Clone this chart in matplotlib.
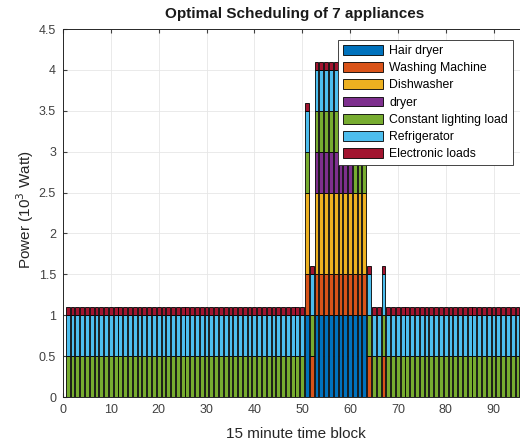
import numpy as np
import matplotlib
matplotlib.use("Agg")
import matplotlib.pyplot as plt

plt.rcParams['font.family'] = ['Liberation Sans', 'DejaVu Sans']

slots = list(range(1, 97))
names = ["Hair dryer", "Washing Machine", "Dishwasher", "dryer",
         "Constant lighting load", "Refrigerator", "Electronic loads"]
colors = ["#0072BD", "#D95319", "#EDB120", "#7E2F8E", "#77AC30", "#4DBEEE", "#A2142F"]

hair_dryer = [
    0, 0, 0, 0, 0, 0, 0, 0, 0, 0, 0, 0, 0, 0, 0, 0,
    0, 0, 0, 0, 0, 0, 0, 0, 0, 0, 0, 0, 0, 0, 0, 0,
    0, 0, 0, 0, 0, 0, 0, 0, 0, 0, 0, 0, 0, 0, 0, 0,
    0, 0, 1.0, 0, 1.0, 1.0, 1.0, 1.0, 1.0, 1.0, 1.0, 1.0, 1.0, 1.0, 1.0, 0,
    0, 0, 0, 0, 0, 0, 0, 0, 0, 0, 0, 0, 0, 0, 0, 0,
    0, 0, 0, 0, 0, 0, 0, 0, 0, 0, 0, 0, 0, 0, 0, 0]
washing_machine = [
    0, 0, 0, 0, 0, 0, 0, 0, 0, 0, 0, 0, 0, 0, 0, 0,
    0, 0, 0, 0, 0, 0, 0, 0, 0, 0, 0, 0, 0, 0, 0, 0,
    0, 0, 0, 0, 0, 0, 0, 0, 0, 0, 0, 0, 0, 0, 0, 0,
    0, 0, 0.5, 0.5, 0.5, 0.5, 0.5, 0.5, 0.5, 0.5, 0.5, 0.5, 0.5, 0.5, 0.5, 0.5,
    0, 0, 0.5, 0, 0, 0, 0, 0, 0, 0, 0, 0, 0, 0, 0, 0,
    0, 0, 0, 0, 0, 0, 0, 0, 0, 0, 0, 0, 0, 0, 0, 0]
dishwasher = [
    0, 0, 0, 0, 0, 0, 0, 0, 0, 0, 0, 0, 0, 0, 0, 0,
    0, 0, 0, 0, 0, 0, 0, 0, 0, 0, 0, 0, 0, 0, 0, 0,
    0, 0, 0, 0, 0, 0, 0, 0, 0, 0, 0, 0, 0, 0, 0, 0,
    0, 0, 1.0, 0, 1.0, 1.0, 1.0, 1.0, 1.0, 1.0, 1.0, 1.0, 1.0, 1.0, 1.0, 0,
    0, 0, 0, 0, 0, 0, 0, 0, 0, 0, 0, 0, 0, 0, 0, 0,
    0, 0, 0, 0, 0, 0, 0, 0, 0, 0, 0, 0, 0, 0, 0, 0]
dryer = [
    0, 0, 0, 0, 0, 0, 0, 0, 0, 0, 0, 0, 0, 0, 0, 0,
    0, 0, 0, 0, 0, 0, 0, 0, 0, 0, 0, 0, 0, 0, 0, 0,
    0, 0, 0, 0, 0, 0, 0, 0, 0, 0, 0, 0, 0, 0, 0, 0,
    0, 0, 0, 0, 0.5, 0.5, 0.5, 0.5, 0.5, 0.5, 0.5, 0.5, 0, 0, 0, 0,
    0, 0, 0, 0, 0, 0, 0, 0, 0, 0, 0, 0, 0, 0, 0, 0,
    0, 0, 0, 0, 0, 0, 0, 0, 0, 0, 0, 0, 0, 0, 0, 0]
lighting = [
    0.5, 0.5, 0.5, 0.5, 0.5, 0.5, 0.5, 0.5, 0.5, 0.5, 0.5, 0.5, 0.5, 0.5, 0.5, 0.5,
    0.5, 0.5, 0.5, 0.5, 0.5, 0.5, 0.5, 0.5, 0.5, 0.5, 0.5, 0.5, 0.5, 0.5, 0.5, 0.5,
    0.5, 0.5, 0.5, 0.5, 0.5, 0.5, 0.5, 0.5, 0.5, 0.5, 0.5, 0.5, 0.5, 0.5, 0.5, 0.5,
    0.5, 0.5, 0.5, 0.5, 0.5, 0.5, 0.5, 0.5, 0.5, 0.5, 0.5, 0.5, 0.5, 0.5, 0.5, 0.5,
    0.5, 0.5, 0.5, 0.5, 0.5, 0.5, 0.5, 0.5, 0.5, 0.5, 0.5, 0.5, 0.5, 0.5, 0.5, 0.5,
    0.5, 0.5, 0.5, 0.5, 0.5, 0.5, 0.5, 0.5, 0.5, 0.5, 0.5, 0.5, 0.5, 0.5, 0.5, 0.5]
refrigerator = [
    0.5, 0.5, 0.5, 0.5, 0.5, 0.5, 0.5, 0.5, 0.5, 0.5, 0.5, 0.5, 0.5, 0.5, 0.5, 0.5,
    0.5, 0.5, 0.5, 0.5, 0.5, 0.5, 0.5, 0.5, 0.5, 0.5, 0.5, 0.5, 0.5, 0.5, 0.5, 0.5,
    0.5, 0.5, 0.5, 0.5, 0.5, 0.5, 0.5, 0.5, 0.5, 0.5, 0.5, 0.5, 0.5, 0.5, 0.5, 0.5,
    0.5, 0.5, 0.5, 0.5, 0.5, 0.5, 0.5, 0.5, 0.5, 0.5, 0.5, 0.5, 0.5, 0.5, 0.5, 0.5,
    0.5, 0.5, 0.5, 0.5, 0.5, 0.5, 0.5, 0.5, 0.5, 0.5, 0.5, 0.5, 0.5, 0.5, 0.5, 0.5,
    0.5, 0.5, 0.5, 0.5, 0.5, 0.5, 0.5, 0.5, 0.5, 0.5, 0.5, 0.5, 0.5, 0.5, 0.5, 0.5]
electronic = [
    0.1, 0.1, 0.1, 0.1, 0.1, 0.1, 0.1, 0.1, 0.1, 0.1, 0.1, 0.1, 0.1, 0.1, 0.1, 0.1,
    0.1, 0.1, 0.1, 0.1, 0.1, 0.1, 0.1, 0.1, 0.1, 0.1, 0.1, 0.1, 0.1, 0.1, 0.1, 0.1,
    0.1, 0.1, 0.1, 0.1, 0.1, 0.1, 0.1, 0.1, 0.1, 0.1, 0.1, 0.1, 0.1, 0.1, 0.1, 0.1,
    0.1, 0.1, 0.1, 0.1, 0.1, 0.1, 0.1, 0.1, 0.1, 0.1, 0.1, 0.1, 0.1, 0.1, 0.1, 0.1,
    0.1, 0.1, 0.1, 0.1, 0.1, 0.1, 0.1, 0.1, 0.1, 0.1, 0.1, 0.1, 0.1, 0.1, 0.1, 0.1,
    0.1, 0.1, 0.1, 0.1, 0.1, 0.1, 0.1, 0.1, 0.1, 0.1, 0.1, 0.1, 0.1, 0.1, 0.1, 0.1]

series = [hair_dryer, washing_machine, dishwasher, dryer, lighting, refrigerator, electronic]

fig = plt.figure(figsize=(5.2, 4.45), dpi=100)
ax = fig.add_axes([63/520, 1-397/445, (527-63)/520, (397-29)/445])

bottom = np.zeros(len(slots))
for vals, name, col in zip(series, names, colors):
    v = np.array(vals, dtype=float)
    ax.bar(slots, v, width=0.8, bottom=bottom, color=col, edgecolor='black',
           linewidth=0.6, label=name, zorder=2)
    bottom += v

ax.set_xlim(0, 97)
ax.set_ylim(0, 4.5)
ax.set_xticks(np.arange(0, 100, 10))
ax.set_yticks(np.arange(0, 4.51, 0.5))
ax.set_yticklabels(['0', '0.5', '1', '1.5', '2', '2.5', '3', '3.5', '4', '4.5'])
ax.grid(True, color='#e6e6e6', linewidth=0.6, zorder=0)
ax.set_axisbelow(True)
ax.tick_params(axis='both', labelsize=9, colors='#404040', direction='in', length=3,
               top=True, right=True, pad=5)
for s in ax.spines.values():
    s.set_color('#262626')
    s.set_linewidth(0.7)

fig.text(295/520, 1-14/445, 'Optimal Scheduling of 7 appliances', ha='center', va='center',
         fontsize=11, fontweight='bold', color='#1a1a1a')
fig.text(296/520, 1-434/445, '15 minute time block', ha='center', va='center',
         fontsize=11, color='#262626')
fig.text(25/520, 1-210/445, 'Power (10$^3$ Watt)', ha='center', va='center',
         rotation=90, fontsize=11, color='#262626')

leg = ax.legend(loc='upper left', bbox_to_anchor=(338/520, 1-40/445),
                bbox_transform=fig.transFigure, fontsize=8.8, frameon=True,
                fancybox=False, edgecolor='#262626', framealpha=1,
                handlelength=3.3, handleheight=0.85, labelspacing=0.42,
                handletextpad=0.5, borderpad=0.4, borderaxespad=0)
leg.get_frame().set_linewidth(0.6)

fig.savefig('out.png', dpi=100)
